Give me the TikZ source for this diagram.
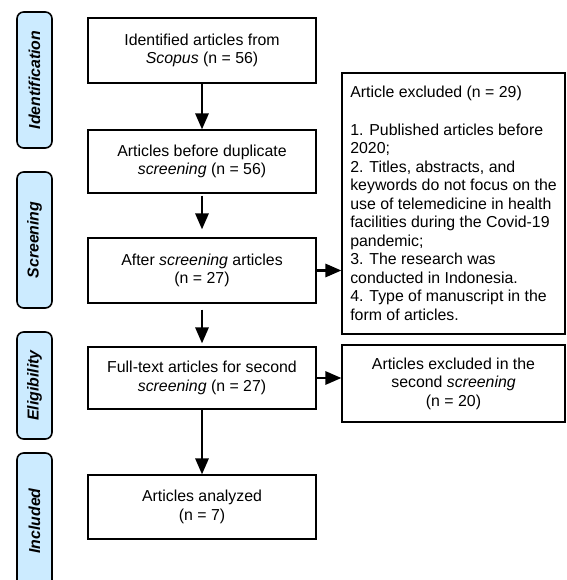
\documentclass[tikz,border=0pt]{standalone}
\usepackage{fontspec}
\setmainfont{Liberation Sans}
\usetikzlibrary{arrows.meta}
\definecolor{tabblue}{RGB}{204,235,255}
\begin{document}
\begin{tikzpicture}[x=0.75pt,y=-0.75pt,
    font=\fontsize{11.9pt}{13.9pt}\selectfont,
    box/.style={draw,line width=1pt,minimum width=171pt,align=center,inner sep=0pt},
    exbox/.style={draw,line width=1pt,minimum width=167.25pt,inner sep=0pt},
    phase/.style={draw,line width=1.2pt,fill=tabblue,rounded corners=5pt,rotate=90,
      minimum height=26.25pt,inner sep=0pt,font=\fontsize{11.9pt}{13.9pt}\selectfont\bfseries\itshape},
    flow/.style={line width=1.6pt,-{Triangle[width=10pt,length=12pt]}}]

  \useasboundingbox (0,0) rectangle (566,580);

  %% phase tabs on the left
  \node [phase,minimum width=102pt] (ident) at (34.5,80) {Identification};
  \node [phase,minimum width=102pt] (screen) at (34.5,240) {Screening};
  \node [phase,minimum width=80.25pt] (elig) at (34.5,385.5) {Eligibility};
  \node [phase,minimum width=102pt] (incl) at (34.5,521) {Included};

  %% main flow
  \node [box,minimum height=48.75pt] (found) at (202,50.5) {Identified articles from\\\textit{Scopus} (n = 56)};
  \node [box,minimum height=47.25pt] (dup) at (202,161.5) {Articles before duplicate\\\textit{screening} (n = 56)};
  \node [box,minimum height=48.75pt] (screened) at (202,270.5) {After \textit{screening} articles\\(n = 27)};
  \node [box,minimum height=46.5pt] (fulltext) at (202,378) {Full-text articles for second\\\textit{screening} (n = 27)};
  \node [box,minimum height=48pt] (analyzed) at (202,507) {Articles analyzed\\(n = 7)};

  %% excluded articles
  \node [exbox,minimum height=195.75pt,align=left] (excl1) at (453.5,203.5) {Article excluded (n = 29)\\[14pt]1. Published articles before\\2020;\\2. Titles, abstracts, and\\keywords do not focus on the\\use of telemedicine in health\\facilities during the Covid-19\\pandemic;\\3. The research was\\conducted in Indonesia.\\4. Type of manuscript in the\\form of articles.};
  \node [exbox,minimum height=57.75pt,align=center] (excl2) at (453.5,383.5) {Articles excluded in the\\second \textit{screening}\\(n = 20)};

  \draw [flow] (found) -- (dup);
  \draw [flow,shorten <=1.5pt,shorten >=6pt] (dup) -- (screened);
  \draw [flow,shorten <=4.5pt,shorten >=2.25pt] (screened) -- (fulltext);
  \draw [flow] (fulltext) -- (analyzed);

  \draw [flow] (screened.east) -- (screened.east -| excl1.west);
  \draw [flow] (fulltext.east) -- (fulltext.east -| excl2.west);
\end{tikzpicture}
\end{document}
